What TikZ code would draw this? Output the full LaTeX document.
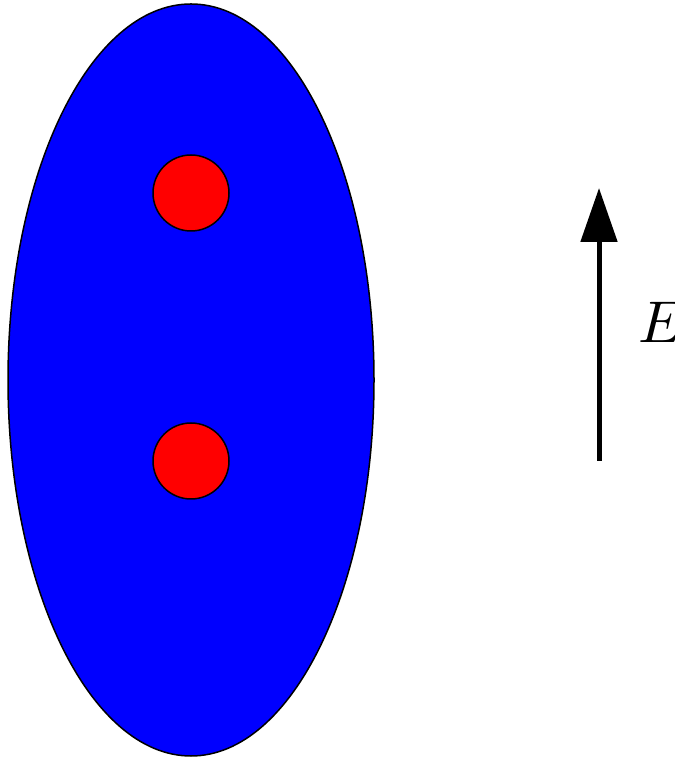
\documentclass[tikz,border=0pt]{standalone}
\usetikzlibrary{shapes.geometric,arrows.meta}
\begin{document}
\begin{tikzpicture}[x=1pt,y=1pt,
  body/.style={ellipse,draw=black,line width=1.5pt,fill=blue,inner sep=0pt,minimum width=366pt,minimum height=752pt},
  charge/.style={circle,draw=black,line width=1.5pt,fill=red,inner sep=0pt,minimum size=76pt},
  field/.style={line width=5pt,-{Triangle[length=54pt,width=36pt]}}]
\useasboundingbox (0,0) rectangle (674,759);
\node[body] (ell) at (191,379) {};
\node[charge] (top) at (191,566) {};
\node[charge] (bot) at (191,298) {};
\coordinate (a0) at (599,298);
\coordinate (a1) at (599,571);
\draw[field] (a0) -- (a1);
\node[anchor=base west,inner sep=0pt] (E) at (638,416) {\scalebox{5.9}{$E$}};
\end{tikzpicture}
\end{document}
